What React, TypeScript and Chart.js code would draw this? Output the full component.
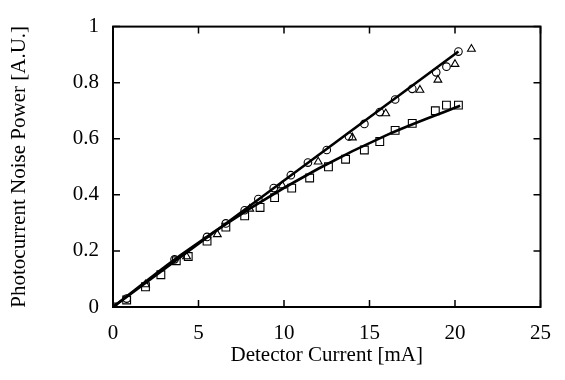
import React, { useEffect, useRef } from "react";
import { Chart, registerables } from "chart.js";

Chart.register(...registerables);

// Data
const circleX = [0.8, 3.6, 5.5, 6.6, 7.7, 8.5, 9.4, 10.4, 11.4, 12.5, 13.8, 14.7, 15.6, 16.5, 17.5, 18.9, 19.5, 20.2];
const circleY = [0.03, 0.17, 0.25, 0.298, 0.345, 0.385, 0.424, 0.47, 0.515, 0.56, 0.608, 0.653, 0.695, 0.74, 0.778, 0.837, 0.857, 0.911];

const triangleX = [1.9, 4.3, 6.1, 8.0, 9.9, 12.0, 14.0, 15.95, 17.95, 19.0, 20.0, 20.96];
const triangleY = [0.08, 0.18, 0.259, 0.35, 0.433, 0.518, 0.604, 0.69, 0.774, 0.81, 0.866, 0.92];

const squareX = [0, 0.8, 1.9, 2.8, 3.7, 4.4, 5.5, 6.6, 7.7, 8.6, 9.45, 10.45, 11.5, 12.6, 13.6, 14.7, 15.6, 16.5, 17.5, 18.85, 19.5, 20.2];
const squareY = [0, 0.025, 0.072, 0.115, 0.165, 0.18, 0.235, 0.285, 0.325, 0.355, 0.39, 0.424, 0.46, 0.5, 0.527, 0.56, 0.59, 0.63, 0.655, 0.70, 0.72, 0.72];

const fitUpperX = [0, 20.2];
const fitUpperY = [0, 0.911];

const fitLowerX = [0, 4, 8, 12, 16, 20.3];
const fitLowerY = [0, 0.187, 0.351, 0.493, 0.613, 0.718];

const xTickValues = [0, 5, 10, 15, 20, 25];
const yTickValues = [0, 0.2, 0.4, 0.6, 0.8, 1];
const yTickLabels = ["0", "0.2", "0.4", "0.6", "0.8", "1"];

const xTitle = "Detector Current [mA]";
const yTitle = "Photocurrent Noise Power [A.U.]";

const pts = (xs: number[], ys: number[]) => xs.map((x, i) => ({ x, y: ys[i] }));

const framePlugin = {
  id: "frame",
  afterDraw(chart: any) {
    const { ctx, chartArea } = chart;
    const { left, right, top, bottom } = chartArea;
    const xs = chart.scales.x;
    const ys = chart.scales.y;
    ctx.save();
    ctx.strokeStyle = "#000";
    ctx.lineWidth = 2;
    ctx.strokeRect(left, top, right - left, bottom - top);
    ctx.lineWidth = 1.5;
    const tl = 7;
    ctx.beginPath();
    xTickValues.forEach((v) => {
      const px = xs.getPixelForValue(v);
      ctx.moveTo(px, bottom);
      ctx.lineTo(px, bottom - tl);
      ctx.moveTo(px, top);
      ctx.lineTo(px, top + tl);
    });
    yTickValues.forEach((v) => {
      const py = ys.getPixelForValue(v);
      ctx.moveTo(left, py);
      ctx.lineTo(left + tl, py);
      ctx.moveTo(right, py);
      ctx.lineTo(right - tl, py);
    });
    ctx.stroke();
    ctx.restore();
  },
};

export default function App() {
  const ref = useRef<HTMLCanvasElement | null>(null);

  useEffect(() => {
    if (!ref.current) return;
    Chart.defaults.font.family = "'Liberation Serif', 'DejaVu Serif', serif";
    Chart.defaults.color = "#000";
    const marker = {
      showLine: false,
      borderColor: "#000",
      backgroundColor: "rgba(0,0,0,0)",
      borderWidth: 1.1,
    };
    const chart = new Chart(ref.current, {
      type: "scatter",
      data: {
        datasets: [
          {
            ...marker,
            data: pts(circleX, circleY),
            pointStyle: "circle",
            pointRadius: 3.8,
          },
          {
            ...marker,
            data: pts(triangleX, triangleY),
            pointStyle: "triangle",
            pointRadius: 4.5,
          },
          {
            ...marker,
            data: pts(squareX, squareY),
            pointStyle: "rect",
            pointRadius: 5.5,
          },
          {
            data: pts(fitUpperX, fitUpperY),
            showLine: true,
            borderColor: "#000",
            borderWidth: 2.6,
            pointRadius: 0,
            tension: 0,
          },
          {
            data: pts(fitLowerX, fitLowerY),
            showLine: true,
            borderColor: "#000",
            borderWidth: 2.6,
            pointRadius: 0,
            cubicInterpolationMode: "monotone",
          },
        ],
      } as any,
      options: {
        animation: false,
        responsive: false,
        devicePixelRatio: 1,
        layout: { padding: { top: 14, right: 18, left: 0, bottom: 0 } },
        plugins: { legend: { display: false }, tooltip: { enabled: false } },
        scales: {
          x: {
            type: "linear",
            min: 0,
            max: 25,
            afterFit: (s: any) => {
              s.height = 73;
            },
            afterBuildTicks: (s: any) => {
              s.ticks = xTickValues.map((v) => ({ value: v }));
            },
            grid: { display: false, drawTicks: false },
            border: { display: false },
            ticks: { font: { size: 21 }, padding: 14, maxRotation: 0 },
            title: {
              display: true,
              text: xTitle,
              font: { size: 21 },
              padding: { top: 0, bottom: 12 },
            },
          },
          y: {
            type: "linear",
            min: 0,
            max: 1,
            afterFit: (s: any) => {
              s.width = 113;
            },
            afterBuildTicks: (s: any) => {
              s.ticks = yTickValues.map((v) => ({ value: v }));
            },
            grid: { display: false, drawTicks: false },
            border: { display: false },
            ticks: {
              font: { size: 21 },
              padding: 14,
              callback: (_v: any, i: number) => yTickLabels[i],
            },
            title: {
              display: true,
              text: yTitle,
              font: { size: 21 },
              padding: { top: 7, bottom: 0 },
            },
          },
        },
      } as any,
      plugins: [framePlugin],
    });
    return () => chart.destroy();
  }, []);

  return (
    <div style={{ position: "absolute", left: 0, top: 0, width: 565, height: 380, background: "#fff" }}>
      <canvas ref={ref} width={565} height={380} />
    </div>
  );
}
